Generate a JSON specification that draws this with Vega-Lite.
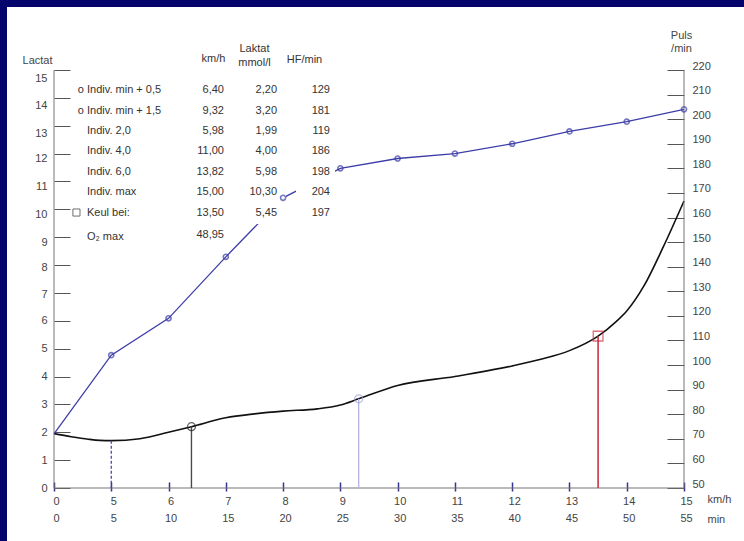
{
  "$schema": "https://vega.github.io/schema/vega-lite/v6.json",
  "width": 737,
  "height": 534,
  "autosize": {"type": "none"},
  "padding": {"left": 7, "top": 7, "right": 0, "bottom": 0},
  "background": "#04046c",
  "datasets": {
    "laktat": [
      {"kmh": 0, "lak": 1.95}, {"kmh": 1.5, "lak": 1.84}, {"kmh": 3, "lak": 1.75}, {"kmh": 4, "lak": 1.71},
      {"kmh": 5, "lak": 1.70}, {"kmh": 5.5, "lak": 1.77}, {"kmh": 5.98, "lak": 1.99}, {"kmh": 6.4, "lak": 2.20},
      {"kmh": 7, "lak": 2.52}, {"kmh": 7.5, "lak": 2.66}, {"kmh": 8, "lak": 2.76}, {"kmh": 8.6, "lak": 2.84},
      {"kmh": 9, "lak": 2.98}, {"kmh": 9.32, "lak": 3.20}, {"kmh": 10, "lak": 3.68}, {"kmh": 11, "lak": 4.00},
      {"kmh": 12, "lak": 4.38}, {"kmh": 12.5, "lak": 4.62}, {"kmh": 13, "lak": 4.93}, {"kmh": 13.5, "lak": 5.45},
      {"kmh": 13.82, "lak": 5.98}, {"kmh": 14, "lak": 6.35}, {"kmh": 14.3, "lak": 7.25}, {"kmh": 14.64, "lak": 8.66},
      {"kmh": 15, "lak": 10.30}
    ],
    "puls": [
      {"kmh": 0, "hf": 72}, {"kmh": 5, "hf": 104}, {"kmh": 6, "hf": 119}, {"kmh": 7, "hf": 144},
      {"kmh": 8, "hf": 168}, {"kmh": 9, "hf": 180}, {"kmh": 10, "hf": 184}, {"kmh": 11, "hf": 186},
      {"kmh": 12, "hf": 190}, {"kmh": 13, "hf": 195}, {"kmh": 14, "hf": 199}, {"kmh": 15, "hf": 204}
    ],
    "tabelle": [
      {"row": 1, "sym": "o", "name": "Indiv. min + 0,5", "kmh": 6.40, "lak": 2.20, "hf": 129},
      {"row": 2, "sym": "o", "name": "Indiv. min + 1,5", "kmh": 9.32, "lak": 3.20, "hf": 181},
      {"row": 3, "name": "Indiv. 2,0", "kmh": 5.98, "lak": 1.99, "hf": 119},
      {"row": 4, "name": "Indiv. 4,0", "kmh": 11.00, "lak": 4.00, "hf": 186},
      {"row": 5, "name": "Indiv. 6,0", "kmh": 13.82, "lak": 5.98, "hf": 198},
      {"row": 6, "name": "Indiv. max", "kmh": 15.00, "lak": 10.30, "hf": 204},
      {"row": 7, "sym": "square", "name": "Keul bei:", "kmh": 13.50, "lak": 5.45, "hf": 197},
      {"row": 8, "name": "O₂ max", "kmh": 48.95}
    ]
  },
  "layer": [
    {
      "data": {"name": "laktat"},
      "mark": {"type": "line", "interpolate": "monotone", "color": "#111111", "strokeWidth": 1.6},
      "encoding": {
        "x": {
          "field": "kmh",
          "type": "quantitative",
          "scale": {"domain": [0, 5, 15], "range": [47, 104.27, 677], "nice": false, "zero": false},
          "axis": {
            "orient": "bottom",
            "offset": -50,
            "domain": false,
            "values": [0, 5, 6, 7, 8, 9, 10, 11, 12, 13, 14, 15],
            "tickSize": -9,
            "tickColor": "#33338c",
            "tickWidth": 1.5,
            "labelPadding": 22,
            "labelBaseline": "alphabetic",
            "labelLineHeight": 17.7,
            "labelOffset": 2,
            "labelExpr": "[datum.label, datum.value == 0 ? '0' : format((datum.value - 4) * 5, 'd')]",
            "title": ["km/h", "min"],
            "titleX": 700,
            "titleY": 11,
            "titleAlign": "left",
            "titleBaseline": "alphabetic",
            "titleLineHeight": 20,
            "titleAngle": 0
          }
        },
        "y": {
          "field": "lak",
          "type": "quantitative",
          "scale": {"domain": [0, 15], "range": [481, 63], "nice": false, "zero": false},
          "axis": {
            "orient": "left",
            "offset": -47,
            "domain": false,
            "values": [0, 1, 2, 3, 4, 5, 6, 7, 8, 9, 10, 11, 12, 13, 14, 15],
            "tickSize": -16,
            "labelPadding": 23,
            "labelOffset": {
              "condition": [
                {"test": "datum.value >= 13", "value": 8},
                {"test": "datum.value >= 9", "value": 5},
                {"test": "datum.value >= 7", "value": 2}
              ],
              "value": 0
            },
            "title": "Lactat",
            "titleAngle": 0,
            "titleX": -17,
            "titleY": 56,
            "titleAlign": "center",
            "titleBaseline": "alphabetic"
          }
        }
      }
    },
    {
      "data": {"values": [{}]},
      "mark": {"type": "rule", "color": "#777777", "strokeWidth": 1},
      "encoding": {
        "x": {"datum": 0, "type": "quantitative"},
        "y": {"datum": 0, "type": "quantitative", "scale": {"domain": [0, 15], "range": [481, 63], "nice": false, "zero": false}, "axis": null},
        "y2": {"datum": 15}
      }
    },
    {
      "data": {"values": [{}]},
      "mark": {"type": "rule", "color": "#777777", "strokeWidth": 1},
      "encoding": {
        "x": {"datum": 15, "type": "quantitative"},
        "y": {"datum": 0, "type": "quantitative", "scale": {"domain": [0, 15], "range": [481, 63], "nice": false, "zero": false}, "axis": null},
        "y2": {"datum": 15}
      }
    },
    {
      "data": {"values": [{}]},
      "mark": {"type": "rule", "color": "#777777", "strokeWidth": 1.2},
      "encoding": {
        "x": {"datum": 0, "type": "quantitative"},
        "x2": {"datum": 15},
        "y": {"datum": 0, "type": "quantitative", "scale": {"domain": [0, 15], "range": [481, 63], "nice": false, "zero": false}, "axis": null}
      }
    },
    {
      "data": {"name": "laktat"},
      "transform": [{"filter": "datum.kmh == 5"}],
      "mark": {"type": "rule", "color": "#4848b0", "strokeWidth": 1.3, "strokeDash": [3, 2]},
      "encoding": {
        "x": {"field": "kmh", "type": "quantitative"},
        "y": {"field": "lak", "type": "quantitative", "scale": {"domain": [0, 15], "range": [481, 63], "nice": false, "zero": false}, "axis": null},
        "y2": {"datum": 0}
      }
    },
    {
      "data": {"name": "tabelle"},
      "transform": [{"filter": "datum.row == 1"}],
      "mark": {"type": "rule", "color": "#4a4a4a", "strokeWidth": 1.4},
      "encoding": {
        "x": {"field": "kmh", "type": "quantitative"},
        "y": {"field": "lak", "type": "quantitative", "scale": {"domain": [0, 15], "range": [481, 63], "nice": false, "zero": false}, "axis": null},
        "y2": {"datum": 0}
      }
    },
    {
      "data": {"name": "tabelle"},
      "transform": [{"filter": "datum.row == 2"}],
      "mark": {"type": "rule", "color": "#b4b4e0", "strokeWidth": 1.3},
      "encoding": {
        "x": {"field": "kmh", "type": "quantitative"},
        "y": {"field": "lak", "type": "quantitative", "scale": {"domain": [0, 15], "range": [481, 63], "nice": false, "zero": false}, "axis": null},
        "y2": {"datum": 0}
      }
    },
    {
      "data": {"name": "tabelle"},
      "transform": [{"filter": "datum.row == 7"}],
      "mark": {"type": "rule", "color": "#cc3344", "strokeWidth": 1.6},
      "encoding": {
        "x": {"field": "kmh", "type": "quantitative"},
        "y": {"field": "lak", "type": "quantitative", "scale": {"domain": [0, 15], "range": [481, 63], "nice": false, "zero": false}, "axis": null},
        "y2": {"datum": 0}
      }
    },
    {
      "data": {"name": "tabelle"},
      "transform": [{"filter": "datum.row == 1"}],
      "mark": {"type": "point", "shape": "circle", "filled": false, "size": 65, "color": "#222222", "strokeWidth": 1.2},
      "encoding": {
        "x": {"field": "kmh", "type": "quantitative"},
        "y": {"field": "lak", "type": "quantitative", "scale": {"domain": [0, 15], "range": [481, 63], "nice": false, "zero": false}, "axis": null}
      }
    },
    {
      "data": {"name": "tabelle"},
      "transform": [{"filter": "datum.row == 2"}],
      "mark": {"type": "point", "shape": "circle", "filled": false, "size": 65, "color": "#a0a0d6", "strokeWidth": 1.2},
      "encoding": {
        "x": {"field": "kmh", "type": "quantitative"},
        "y": {"field": "lak", "type": "quantitative", "scale": {"domain": [0, 15], "range": [481, 63], "nice": false, "zero": false}, "axis": null}
      }
    },
    {
      "data": {"name": "tabelle"},
      "transform": [{"filter": "datum.row == 7"}],
      "mark": {"type": "point", "shape": "square", "filled": false, "size": 95, "color": "#cc3344", "strokeWidth": 1.3},
      "encoding": {
        "x": {"field": "kmh", "type": "quantitative"},
        "y": {"field": "lak", "type": "quantitative", "scale": {"domain": [0, 15], "range": [481, 63], "nice": false, "zero": false}, "axis": null}
      }
    },
    {
      "data": {"name": "puls"},
      "mark": {"type": "line", "color": "#3d3da8", "strokeWidth": 1.3},
      "encoding": {
        "x": {"field": "kmh", "type": "quantitative"},
        "y": {
          "field": "hf",
          "type": "quantitative",
          "scale": {"domain": [50, 220], "range": [481, 63], "nice": false, "zero": false},
          "axis": {
            "orient": "right",
            "offset": -60,
            "domain": false,
            "values": [50, 60, 70, 80, 90, 100, 110, 120, 130, 140, 150, 160, 170, 180, 190, 200, 210, 220],
            "tickSize": -17,
            "labelPadding": 25,
            "labelOffset": -4,
            "title": ["Puls", "/min"],
            "titleAngle": 0,
            "titleX": -3,
            "titleY": 31,
            "titleAlign": "center",
            "titleBaseline": "alphabetic",
            "titleLineHeight": 13.5
          }
        }
      }
    },
    {
      "data": {"name": "tabelle"},
      "transform": [{"filter": "isValid(datum.lak)"}],
      "mark": {"type": "bar", "color": "white", "size": 23},
      "encoding": {
        "x": {"datum": 7.25, "type": "quantitative"},
        "x2": {"datum": 8.05},
        "y": {"field": "row", "type": "quantitative", "scale": {"domain": [1, 8], "range": [83.3, 225.9], "nice": false, "zero": false, "padding": 0}, "axis": null}
      }
    },
    {
      "data": {"name": "tabelle"},
      "transform": [{"filter": "isValid(datum.hf)"}],
      "mark": {"type": "bar", "color": "white", "size": 23},
      "encoding": {
        "x": {"datum": 8.226, "type": "quantitative"},
        "x2": {"datum": 8.907},
        "y": {"field": "row", "type": "quantitative", "scale": {"domain": [1, 8], "range": [83.3, 225.9], "nice": false, "zero": false, "padding": 0}, "axis": null}
      }
    },
    {
      "data": {"name": "tabelle"},
      "transform": [{"filter": "datum.sym == 'o'"}],
      "mark": {"type": "text", "align": "center", "baseline": "middle"},
      "encoding": {
        "x": {"datum": 2.33, "type": "quantitative"},
        "y": {"field": "row", "type": "quantitative", "scale": {"domain": [1, 8], "range": [83.3, 225.9], "nice": false, "zero": false, "padding": 0}, "axis": null},
        "text": {"field": "sym"}
      }
    },
    {
      "data": {"name": "tabelle"},
      "transform": [{"filter": "datum.sym == 'square'"}],
      "mark": {"type": "point", "shape": "square", "filled": false, "size": 50, "color": "#333333", "strokeWidth": 1},
      "encoding": {
        "x": {"datum": 1.96, "type": "quantitative"},
        "y": {"field": "row", "type": "quantitative", "scale": {"domain": [1, 8], "range": [83.3, 225.9], "nice": false, "zero": false, "padding": 0}, "axis": null}
      }
    },
    {
      "data": {"name": "tabelle"},
      "transform": [{"filter": "datum.row < 8"}],
      "mark": {"type": "text", "align": "left", "baseline": "middle"},
      "encoding": {
        "x": {"datum": 2.88, "type": "quantitative"},
        "y": {"field": "row", "type": "quantitative", "scale": {"domain": [1, 8], "range": [83.3, 225.9], "nice": false, "zero": false, "padding": 0}, "axis": null},
        "text": {"field": "name"}
      }
    },
    {
      "data": {"name": "tabelle"},
      "transform": [{"filter": "datum.row == 8"}],
      "mark": {"type": "text", "align": "left", "baseline": "middle", "dy": 4},
      "encoding": {
        "x": {"datum": 2.88, "type": "quantitative"},
        "y": {"field": "row", "type": "quantitative", "scale": {"domain": [1, 8], "range": [83.3, 225.9], "nice": false, "zero": false, "padding": 0}, "axis": null},
        "text": {"field": "name"}
      }
    },
    {
      "data": {"name": "tabelle"},
      "transform": [{"filter": "datum.row < 8"}],
      "mark": {"type": "text", "align": "right", "baseline": "middle"},
      "encoding": {
        "x": {"datum": 6.968, "type": "quantitative"},
        "y": {"field": "row", "type": "quantitative", "scale": {"domain": [1, 8], "range": [83.3, 225.9], "nice": false, "zero": false, "padding": 0}, "axis": null},
        "text": {"field": "kmh", "type": "quantitative", "format": ".2f"}
      }
    },
    {
      "data": {"name": "tabelle"},
      "transform": [{"filter": "datum.row == 8"}],
      "mark": {"type": "text", "align": "right", "baseline": "middle", "dy": 2},
      "encoding": {
        "x": {"datum": 6.968, "type": "quantitative"},
        "y": {"field": "row", "type": "quantitative", "scale": {"domain": [1, 8], "range": [83.3, 225.9], "nice": false, "zero": false, "padding": 0}, "axis": null},
        "text": {"field": "kmh", "type": "quantitative", "format": ".2f"}
      }
    },
    {
      "data": {"name": "tabelle"},
      "transform": [{"filter": "isValid(datum.lak)"}],
      "mark": {"type": "text", "align": "right", "baseline": "middle"},
      "encoding": {
        "x": {"datum": 7.894, "type": "quantitative"},
        "y": {"field": "row", "type": "quantitative", "scale": {"domain": [1, 8], "range": [83.3, 225.9], "nice": false, "zero": false, "padding": 0}, "axis": null},
        "text": {"field": "lak", "type": "quantitative", "format": ".2f"}
      }
    },
    {
      "data": {"name": "tabelle"},
      "transform": [{"filter": "isValid(datum.hf)"}],
      "mark": {"type": "text", "align": "right", "baseline": "middle"},
      "encoding": {
        "x": {"datum": 8.819, "type": "quantitative"},
        "y": {"field": "row", "type": "quantitative", "scale": {"domain": [1, 8], "range": [83.3, 225.9], "nice": false, "zero": false, "padding": 0}, "axis": null},
        "text": {"field": "hf", "type": "quantitative", "format": "d"}
      }
    },
    {
      "data": {"values": [{}]},
      "mark": {"type": "text", "text": "km/h", "align": "center", "baseline": "alphabetic", "dy": -8},
      "encoding": {
        "x": {"datum": 6.785, "type": "quantitative"},
        "y": {"datum": 0, "type": "quantitative", "scale": {"domain": [1, 8], "range": [83.3, 225.9], "nice": false, "zero": false, "padding": 0}, "axis": null}
      }
    },
    {
      "data": {"values": [{}]},
      "mark": {"type": "text", "text": ["Laktat", "mmol/l"], "align": "center", "baseline": "alphabetic", "dy": -18, "lineHeight": 14.5},
      "encoding": {
        "x": {"datum": 7.5, "type": "quantitative"},
        "y": {"datum": 0, "type": "quantitative", "scale": {"domain": [1, 8], "range": [83.3, 225.9], "nice": false, "zero": false, "padding": 0}, "axis": null}
      }
    },
    {
      "data": {"values": [{}]},
      "mark": {"type": "text", "text": "HF/min", "align": "center", "baseline": "alphabetic", "dy": -7},
      "encoding": {
        "x": {"datum": 8.374, "type": "quantitative"},
        "y": {"datum": 0, "type": "quantitative", "scale": {"domain": [1, 8], "range": [83.3, 225.9], "nice": false, "zero": false, "padding": 0}, "axis": null}
      }
    },
    {
      "data": {"name": "puls"},
      "transform": [{"filter": "datum.kmh > 0"}],
      "mark": {"type": "point", "shape": "circle", "filled": false, "size": 26, "color": "#3d3da8", "strokeWidth": 1.6},
      "encoding": {
        "x": {"field": "kmh", "type": "quantitative"},
        "y": {"field": "hf", "type": "quantitative", "scale": {"domain": [50, 220], "range": [481, 63], "nice": false, "zero": false}, "axis": null}
      }
    }
  ],
  "resolve": {"scale": {"y": "independent"}, "axis": {"y": "independent"}},
  "config": {
    "font": "Liberation Sans",
    "view": {"fill": "white", "stroke": null},
    "locale": {"number": {"decimal": ",", "thousands": ".", "grouping": [3], "currency": ["", " €"]}},
    "axis": {
      "grid": false,
      "labelFont": "Liberation Sans",
      "labelFontSize": 11,
      "labelColor": "#444444",
      "titleFont": "Liberation Sans",
      "titleFontSize": 11,
      "titleFontWeight": "normal",
      "titleColor": "#444444",
      "tickColor": "#555555",
      "labelFlush": false,
      "labelOverlap": false,
      "labelBound": false
    },
    "text": {"font": "Liberation Sans", "fontSize": 11, "color": "#333333"}
  }
}
